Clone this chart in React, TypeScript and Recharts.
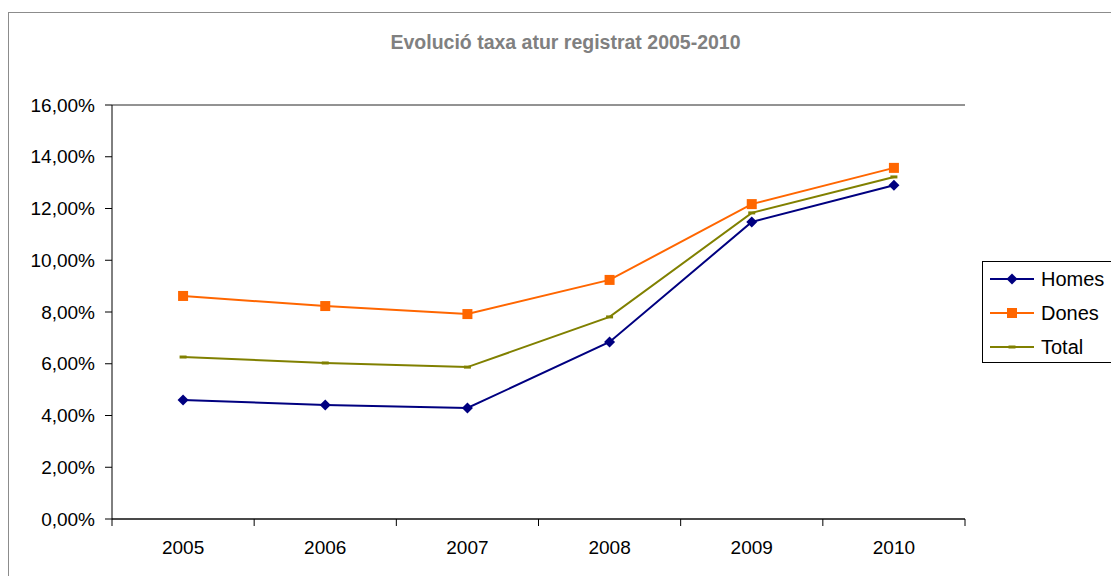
import React from 'react';
import { LineChart, Line, XAxis, YAxis, CartesianGrid } from 'recharts';

const years = ['2005', '2006', '2007', '2008', '2009', '2010'];
const homes = [4.6, 4.41, 4.29, 6.84, 11.48, 12.9];
const dones = [8.62, 8.23, 7.92, 9.24, 12.17, 13.57];
const total = [6.26, 6.03, 5.87, 7.81, 11.83, 13.22];
const yTicks = [0, 2, 4, 6, 8, 10, 12, 14, 16];

const data = years.map((y, i) => ({ year: y, Homes: homes[i], Dones: dones[i], Total: total[i] }));

const FONT = '"Liberation Sans", Arial, sans-serif';
const C_HOMES = '#000080';
const C_DONES = '#FF6600';
const C_TOTAL = '#808000';

const Diamond = (props: any) => {
  const { cx, cy, fill } = props;
  if (cx == null || cy == null) return null;
  return <path d={`M${cx},${cy - 5.5}L${cx + 5.5},${cy}L${cx},${cy + 5.5}L${cx - 5.5},${cy}Z`} fill={fill} />;
};
const Square = (props: any) => {
  const { cx, cy, fill } = props;
  if (cx == null || cy == null) return null;
  return <rect x={cx - 5} y={cy - 5} width={10} height={10} fill={fill} />;
};
const Dash = (props: any) => {
  const { cx, cy, fill } = props;
  if (cx == null || cy == null) return null;
  return <rect x={cx - 3.5} y={cy - 1.5} width={7} height={3} fill={fill} />;
};

const legendItems = [
  { name: 'Homes', color: C_HOMES, Marker: Diamond },
  { name: 'Dones', color: C_DONES, Marker: Square },
  { name: 'Total', color: C_TOTAL, Marker: Dash },
];

const LegendBox = () => (
  <div
    style={{
      position: 'absolute',
      left: 982,
      top: 261,
      border: '1px solid #000',
      width: 130,
      height: 102,
      boxSizing: 'border-box',
      paddingTop: 0,
      background: '#fff',
      fontFamily: FONT,
    }}
  >
    {legendItems.map((it) => (
      <div key={it.name} style={{ display: 'flex', alignItems: 'center', height: 34 }}>
        <svg width={52} height={20} style={{ marginLeft: 6, flex: 'none' }}>
          <line x1={1} y1={10} x2={45} y2={10} stroke={it.color} strokeWidth={2} />
          <it.Marker cx={23} cy={10} fill={it.color} />
        </svg>
        <span style={{ fontSize: 20, color: '#000', lineHeight: '20px' }}>{it.name}</span>
      </div>
    ))}
  </div>
);

const TICK_SIZE = 7;
const TICK_MARGIN = 13;

const CatTick = (props: any) => {
  const { x, y, payload, index, visibleTicksCount } = props;
  const half = payload && payload.offset ? payload.offset : 0;
  const axisY = y - TICK_SIZE - TICK_MARGIN;
  const isLast = index === (visibleTicksCount ?? years.length) - 1;
  return (
    <g>
      <line x1={x - half} y1={axisY} x2={x - half} y2={axisY + TICK_SIZE} stroke="#000" />
      {isLast && <line x1={x + half} y1={axisY} x2={x + half} y2={axisY + TICK_SIZE} stroke="#000" />}
      <text x={x} y={y + 2} dy="0.71em" textAnchor="middle" fontSize={19} fontFamily={FONT} fill="#000">
        {payload.value}
      </text>
    </g>
  );
};

const fmt = (v: number) => v.toFixed(2).replace('.', ',') + '%';

export default function App() {
  return (
    <div style={{ position: 'absolute', left: 0, top: 0, width: 1111, height: 576, background: '#fff', overflow: 'hidden' }}>
      <div
        style={{
          position: 'absolute',
          left: 8,
          top: 12,
          width: 1120,
          height: 600,
          border: '1px solid #8c8c8c',
        }}
      />
      <div
        style={{
          position: 'absolute',
          left: 0,
          top: 30,
          width: 1131,
          textAlign: 'center',
          fontFamily: FONT,
          fontWeight: 'bold',
          fontSize: 19.5,
          lineHeight: '24px',
          color: '#808080',
        }}
      >
        Evolució taxa atur registrat 2005-2010
      </div>
      <div style={{ position: 'absolute', left: 0, top: 0 }}>
        <LineChart width={1111} height={576} data={data} margin={{ top: 105, right: 146, left: 0, bottom: 0 }}>
          <CartesianGrid horizontal={true} vertical={false} stroke="#000" strokeOpacity={0.85} />
          <XAxis
            dataKey="year"
            xAxisId="cat"
            scale="band"
            height={57}
            axisLine={{ stroke: '#000' }}
            tickLine={false}
            tickSize={TICK_SIZE}
            tickMargin={TICK_MARGIN}
            tick={<CatTick />}
            interval={0}
          />
          <YAxis
            yAxisId="left"
            width={112}
            domain={[0, 16]}
            ticks={yTicks}
            tickFormatter={fmt}
            axisLine={{ stroke: '#000' }}
            tickLine={{ stroke: '#000' }}
            tickSize={7}
            tickMargin={10}
            tick={{ fontSize: 19, fill: '#000', fontFamily: FONT }}
            interval={0}
          />
          <YAxis
            yAxisId="right"
            orientation="right"
            width={0}
            domain={[0, 16]}
            tick={false}
            tickLine={false}
            axisLine={{ stroke: '#8c8c8c' }}
          />
          <Line
            xAxisId="cat"
            yAxisId="left"
            dataKey="Homes"
            stroke={C_HOMES}
            strokeWidth={2}
            dot={<Diamond fill={C_HOMES} />}
            activeDot={false}
            isAnimationActive={false}
          />
          <Line
            xAxisId="cat"
            yAxisId="left"
            dataKey="Dones"
            stroke={C_DONES}
            strokeWidth={2}
            dot={<Square fill={C_DONES} />}
            activeDot={false}
            isAnimationActive={false}
          />
          <Line
            xAxisId="cat"
            yAxisId="left"
            dataKey="Total"
            stroke={C_TOTAL}
            strokeWidth={2}
            dot={<Dash fill={C_TOTAL} />}
            activeDot={false}
            isAnimationActive={false}
          />
        </LineChart>
      </div>
      <LegendBox />
    </div>
  );
}
